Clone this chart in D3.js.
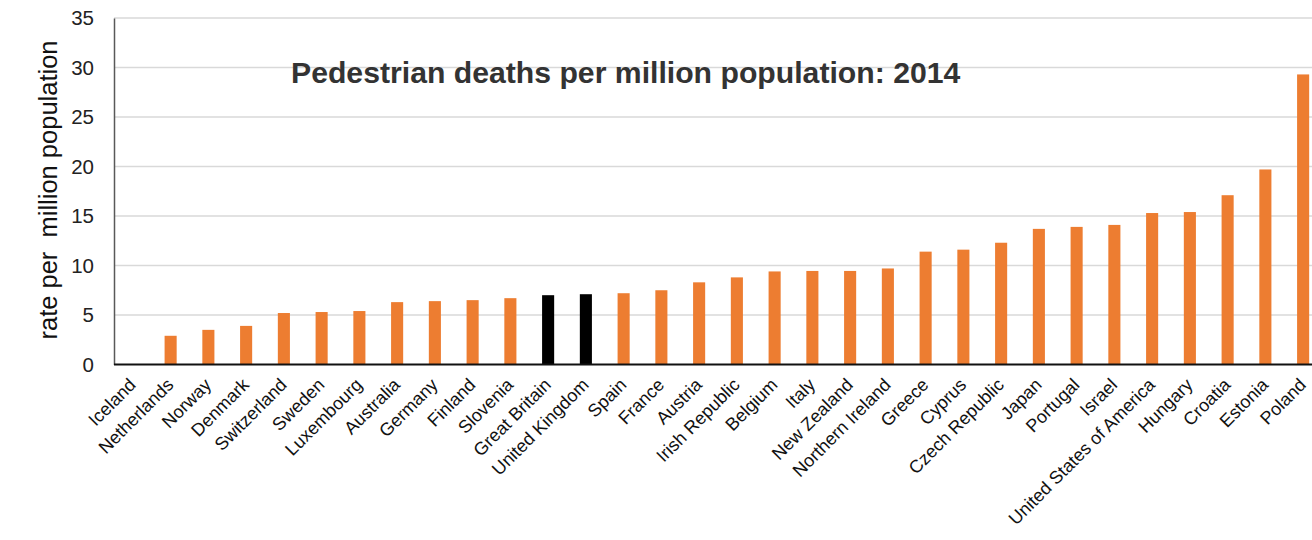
<!DOCTYPE html>
<html>
<head>
<meta charset="utf-8">
<script src="https://cdn.jsdelivr.net/npm/d3@7"></script>
<style>
  html, body { margin: 0; padding: 0; background: #fff; }
  svg { display: block; font-family: "Liberation Sans", Arial, sans-serif; }
</style>
</head>
<body>
<svg id="chart" width="1312" height="540"></svg>
<script>
// Pedestrian deaths per million population, 2014
const countries = [
  "Iceland", "Netherlands", "Norway", "Denmark", "Switzerland", "Sweden",
  "Luxembourg", "Australia", "Germany", "Finland", "Slovenia", "Great Britain",
  "United Kingdom", "Spain", "France", "Austria", "Irish Republic", "Belgium",
  "Italy", "New Zealand", "Northern Ireland", "Greece", "Cyprus", "Czech Republic",
  "Japan", "Portugal", "Israel", "United States of America", "Hungary", "Croatia",
  "Estonia", "Poland"
];
const rates = [
  0, 2.9, 3.5, 3.9, 5.2, 5.3,
  5.4, 6.3, 6.4, 6.5, 6.7, 7.0,
  7.1, 7.2, 7.5, 8.3, 8.8, 9.4,
  9.45, 9.45, 9.7, 11.4, 11.6, 12.3,
  13.7, 13.9, 14.1, 15.3, 15.4, 17.1,
  19.7, 29.3
];
// Home-nation bars drawn in black
const highlighted = ["Great Britain", "United Kingdom"];
const yTicks = [0, 5, 10, 15, 20, 25, 30, 35];
const titleText = "Pedestrian deaths per million population: 2014";
const yAxisTitle = "rate per  million population";

const svg = d3.select("#chart");
const plotLeft = 114, plotRight = 1322, plotTop = 18, plotBottom = 364.5;

const x = d3.scaleBand()
  .domain(countries)
  .range([plotLeft, plotRight])
  .paddingInner(0.68)
  .paddingOuter(0.34);

const y = d3.scaleLinear()
  .domain([0, 35])
  .range([plotBottom, plotTop]);

// horizontal gridlines
svg.append("g")
  .selectAll("line")
  .data(yTicks.filter(d => d > 0))
  .join("line")
  .attr("x1", plotLeft).attr("x2", plotRight)
  .attr("y1", d => y(d)).attr("y2", d => y(d))
  .attr("stroke", "#d9d9d9")
  .attr("stroke-width", 1.5);

// y axis
const yAxis = svg.append("g")
  .attr("transform", `translate(${plotLeft},0)`)
  .call(d3.axisLeft(y).tickValues(yTicks).tickSize(0).tickPadding(20));
yAxis.select(".domain").attr("stroke", "#595959").attr("stroke-width", 1.5);
yAxis.selectAll("text")
  .attr("font-size", 20.5)
  .attr("fill", "#222")
  .attr("font-family", "Liberation Sans, Arial, sans-serif");

// bars
svg.append("g")
  .selectAll("rect")
  .data(countries.map((c, i) => ({ c, v: rates[i] })))
  .join("rect")
  .attr("x", d => x(d.c))
  .attr("width", x.bandwidth())
  .attr("y", d => y(d.v))
  .attr("height", d => y(0) - y(d.v))
  .attr("fill", d => highlighted.includes(d.c) ? "#000000" : "#ED7D31");

// x axis baseline
svg.append("line")
  .attr("x1", plotLeft).attr("x2", plotRight)
  .attr("y1", y(0)).attr("y2", y(0))
  .attr("stroke", "#111")
  .attr("stroke-width", 2);

// rotated category labels
svg.append("g")
  .selectAll("text")
  .data(countries)
  .join("text")
  .attr("transform", d => `translate(${x(d) + x.bandwidth() / 2 + 4},386) rotate(-45)`)
  .attr("text-anchor", "end")
  .attr("font-size", 18)
  .attr("fill", "#111")
  .text(d => d);

// y axis title
svg.append("text")
  .attr("transform", `translate(57,190) rotate(-90)`)
  .attr("text-anchor", "middle")
  .attr("font-size", 25.5)
  .attr("fill", "#111")
  .style("white-space", "pre")
  .text(yAxisTitle);

// chart title
svg.append("text")
  .attr("x", 291)
  .attr("y", 83)
  .attr("font-size", 30.2)
  .attr("font-weight", "bold")
  .attr("fill", "#333")
  .text(titleText);
</script>
</body>
</html>
